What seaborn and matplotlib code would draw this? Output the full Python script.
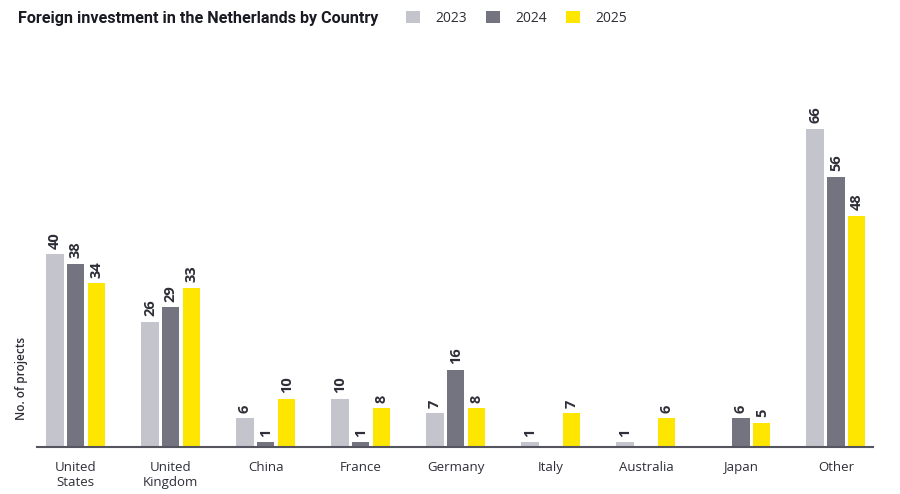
import numpy as np
import pandas as pd
import matplotlib.pyplot as plt
import seaborn as sns
from matplotlib.patches import Patch

countries = ["United\nStates", "United\nKingdom", "China", "France", "Germany",
             "Italy", "Australia", "Japan", "Other"]
years = ["2023", "2024", "2025"]
projects_2023 = [40, 26, 6, 10, 7, 1, 1, 0, 66]
projects_2024 = [38, 29, 1, 1, 16, 0, 0, 6, 56]
projects_2025 = [34, 33, 10, 8, 8, 7, 6, 5, 48]

colors = ["#c4c4cd", "#747480", "#ffe600"]
text_color = "#2e2e38"

df = pd.DataFrame({
    "country": countries * 3,
    "year": sum([[y] * len(countries) for y in years], []),
    "projects": projects_2023 + projects_2024 + projects_2025,
})

sns.set_theme(style="white")
plt.rcParams["font.family"] = ["Open Sans", "DejaVu Sans"]

fig = plt.figure(figsize=(9, 4.94), dpi=100)
ax = fig.add_axes([0.041, 0.095, 0.929, 0.825])

sns.barplot(data=df, x="country", y="projects", hue="year", order=countries,
            hue_order=years, palette=colors, width=0.66, gap=0.18,
            linewidth=0, saturation=1, legend=False, ax=ax)

# value labels, skip the empty bars
for cont, vals in zip(ax.containers, [projects_2023, projects_2024, projects_2025]):
    labels = [str(v) if v > 0 else "" for v in vals]
    ax.bar_label(cont, labels=labels, rotation=90, padding=4, fontsize=10.5,
                 fontweight="bold", color=text_color)

ax.set_xlim(-0.41, 8.39)
ax.set_ylim(0, 84.5)
ax.set_yticks([])
ax.set_xlabel("")
ax.set_ylabel("No. of projects", fontsize=8.5, color=text_color, loc="bottom",
              fontweight="semibold")
ax.yaxis.set_label_coords(-0.011, 0.066)
ax.tick_params(axis="x", length=0, pad=10, labelsize=9.5, labelcolor=text_color)
for side in ["top", "right", "left"]:
    ax.spines[side].set_visible(False)
ax.spines["bottom"].set_color("#55555f")
ax.spines["bottom"].set_linewidth(1.5)

fig.text(0.02, 0.963, "Foreign investment in the Netherlands by Country",
         fontsize=11.6, fontweight="bold", color="#1a1a24", va="center",
         family=["Roboto", "DejaVu Sans"])
handles = [Patch(facecolor=c, edgecolor="none") for c in colors]
fig.legend(handles, years, loc="center left", bbox_to_anchor=(0.437, 0.963),
           ncol=3, frameon=False, fontsize=10, handlelength=1.0,
           handleheight=1.0, handletextpad=1.1, columnspacing=1.4,
           labelcolor=text_color)

fig.savefig("out.png", dpi=100)
